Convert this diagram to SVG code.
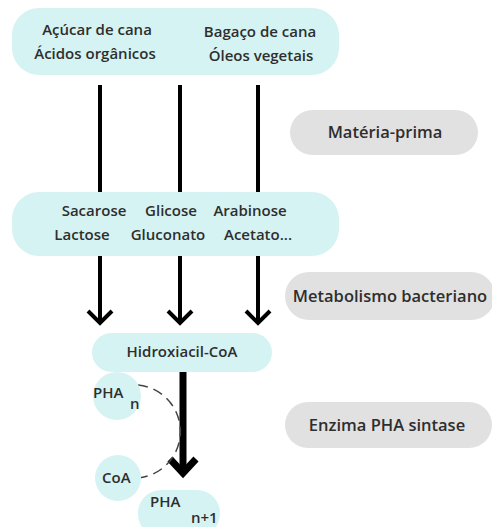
<svg xmlns="http://www.w3.org/2000/svg" width="492" height="527" viewBox="0 0 492 527">
  <defs>
    <style>
      .box { fill: #d6f3f3; }
      .tag { fill: #e1e1e1; }
      .t { font-family: "Open Sans", "Liberation Sans", sans-serif; font-weight: 600; font-size: 15px; fill: #2e2e2e; }
      .tl { font-size: 16.5px; }
      .c { text-anchor: middle; }
      .line { stroke: #000; stroke-width: 4; fill: none; }
      .head { stroke: #000; stroke-width: 4; fill: none; stroke-linecap: butt; stroke-linejoin: miter; }
      .dash { stroke: #444; stroke-width: 1.5; fill: none; stroke-dasharray: 10 6; }
    </style>
  </defs>
  <rect width="492" height="527" fill="#ffffff"/>

  <!-- connectors -->
  <g id="connectors">
    <line class="line" x1="100" y1="85" x2="100" y2="193"/>
    <line class="line" x1="180" y1="85" x2="180" y2="193"/>
    <line class="line" x1="258" y1="85" x2="258" y2="193"/>

    <line class="line" x1="100" y1="255" x2="100" y2="323"/>
    <polyline class="head" points="88,311 100,323 112,311"/>
    <line class="line" x1="180" y1="255" x2="180" y2="323"/>
    <polyline class="head" points="168,311 180,323 192,311"/>
    <line class="line" x1="258" y1="255" x2="258" y2="323"/>
    <polyline class="head" points="246,311 258,323 270,311"/>

    <line x1="183" y1="372" x2="183" y2="474" stroke="#000" stroke-width="7"/>
    <polyline points="170,459 183,473 196,459" stroke="#000" stroke-width="7" fill="none"/>

    <path class="dash" d="M138,385 A46.7,46.7 0 0 1 138,478"/>
  </g>

  <g id="materias">
    <rect class="box" x="12" y="8" width="327" height="67" rx="27"/>
    <text class="t c" x="97" y="35">Açúcar de cana</text>
    <text class="t c" x="95" y="59">Ácidos orgânicos</text>
    <text class="t c" x="260" y="37">Bagaço de cana</text>
    <text class="t c" x="261" y="61">Óleos vegetais</text>
  </g>

  <g id="acucares">
    <rect class="box" x="12" y="192" width="327" height="64" rx="27"/>
    <text class="t c" x="94" y="216">Sacarose</text>
    <text class="t c" x="171" y="216">Glicose</text>
    <text class="t c" x="250" y="216">Arabinose</text>
    <text class="t c" x="82" y="240">Lactose</text>
    <text class="t c" x="168" y="240">Gluconato</text>
    <text class="t c" x="258" y="240">Acetato...</text>
  </g>

  <g id="hidroxiacil">
    <rect class="box" x="92" y="333" width="180" height="39" rx="19.5"/>
    <text class="t c" x="182" y="357">Hidroxiacil-CoA</text>
  </g>

  <g id="pha-n">
    <circle class="box" cx="117" cy="396" r="24"/>
    <text class="t" x="93" y="398">PHA</text>
    <text class="t" x="130" y="409">n</text>
  </g>

  <g id="coa">
    <circle class="box" cx="118" cy="478" r="23"/>
    <text class="t" x="102" y="483">CoA</text>
  </g>

  <g id="pha-n1">
    <rect class="box" x="138" y="490" width="82" height="47" rx="23"/>
    <text class="t" x="150" y="507">PHA</text>
    <text class="t" x="191" y="523">n+1</text>
  </g>

  <g id="materia-prima">
    <rect class="tag" x="290" y="110" width="188" height="45" rx="22.5"/>
    <text class="t tl c" x="385" y="138">Matéria-prima</text>
  </g>

  <g id="metabolismo">
    <rect class="tag" x="285" y="272" width="210" height="48" rx="24"/>
    <text class="t tl c" x="390" y="302">Metabolismo bacteriano</text>
  </g>

  <g id="enzima">
    <rect class="tag" x="285" y="402" width="207" height="46" rx="23"/>
    <text class="t tl c" x="387" y="431">Enzima PHA sintase</text>
  </g>
</svg>
